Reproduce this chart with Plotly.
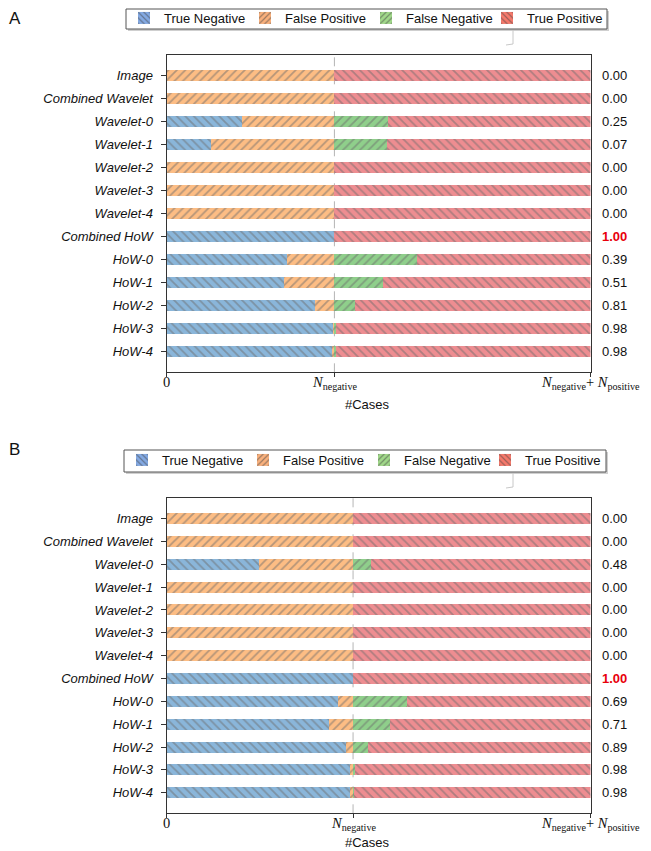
import plotly.graph_objects as go

# the page body has an 8px margin, so the figure is drawn 8px in from the top-left corner
OFF = 8
W, H = 651 - OFF, 851 - OFF


def px(x):
    return (x - OFF) / W


def py(y):
    return 1 - (y - OFF) / H


rows = ["Image", "Combined Wavelet", "Wavelet-0", "Wavelet-1", "Wavelet-2", "Wavelet-3",
        "Wavelet-4", "Combined HoW", "HoW-0", "HoW-1", "HoW-2", "HoW-3", "HoW-4"]
classes = ["True Negative", "False Positive", "False Negative", "True Positive"]

# panel A (case counts)
n_neg_a = 400
n_pos_a = 610
tn_a = [0, 0, 181, 107, 0, 0, 0, 400, 288, 281, 354, 396, 394]
fp_a = [400, 400, 219, 293, 400, 400, 400, 0, 112, 119, 46, 4, 6]
fn_a = [0, 0, 128, 126, 0, 0, 0, 0, 197, 115, 49, 4, 3]
tp_a = [610, 610, 482, 484, 610, 610, 610, 610, 413, 495, 561, 606, 607]
score_a = [0.00, 0.00, 0.25, 0.07, 0.00, 0.00, 0.00, 1.00, 0.39, 0.51, 0.81, 0.98, 0.98]

# panel B
n_neg_b = 440
n_pos_b = 560
tn_b = [0, 0, 218, 0, 0, 0, 0, 440, 404, 383, 423, 432, 433]
fp_b = [440, 440, 222, 440, 440, 440, 440, 0, 36, 57, 17, 8, 7]
fn_b = [0, 0, 42, 0, 0, 0, 0, 0, 128, 87, 35, 4, 3]
tp_b = [560, 560, 518, 560, 560, 560, 560, 560, 432, 473, 525, 556, 557]
score_b = [0.00, 0.00, 0.48, 0.00, 0.00, 0.00, 0.00, 1.00, 0.69, 0.71, 0.89, 0.98, 0.98]

bar_colors = ["#8ab6da", "#fdbd84", "#8fcf8b", "#ee8d91"]
legend_colors = ["#83a9e3", "#f9b07c", "#a0d889", "#f6796b"]
hatch = ["\\", "/", "/", "\\"]

sans = "Arial, Liberation Sans, sans-serif"
serif = "Liberation Serif, Times New Roman, serif"

fig = go.Figure()


def add_panel(n, xa, ya, legend, counts, n_neg, n_pos, scores, top, bottom, label_y, leg_box):
    for k in range(4):
        fig.add_trace(go.Bar(
            x=counts[k], y=rows, orientation="h", xaxis=xa, yaxis=ya, showlegend=False,
            marker=dict(color=bar_colors[k], line=dict(width=0),
                        pattern=dict(shape=hatch[k], fillmode="overlay", fgcolor="#6e6e6e",
                                     size=6, solidity=0.3)),
            hoverinfo="skip"))
    # legend-only entries (the swatches are a bit brighter than the bars)
    for k in range(4):
        fig.add_trace(go.Bar(
            x=[None], y=[None], orientation="h", xaxis=xa, yaxis=ya, name=classes[k],
            legend=legend, showlegend=True,
            marker=dict(color=legend_colors[k], line=dict(width=0),
                        pattern=dict(shape=hatch[k], fillmode="overlay", fgcolor="#444444",
                                     size=5, solidity=0.3))))

    axn = "" if n == 1 else str(n)
    total = n_neg + n_pos
    fig.layout["xaxis" + axn] = dict(
        domain=[px(166.5), px(590.5)], anchor=ya, range=[0, total],
        tickvals=[0, n_neg, total], showticklabels=False,
        ticks="outside", ticklen=4, tickcolor="#333",
        showline=True, linecolor="#333", linewidth=1, mirror=True,
        showgrid=False, zeroline=False, automargin=False, fixedrange=True)
    pad = 0.9
    fig.layout["yaxis" + axn] = dict(
        domain=[py(bottom), py(top)], anchor=xa, type="category",
        categoryorder="array", categoryarray=rows, range=[len(rows) - 1 + pad, -pad],
        tickfont=dict(family=sans, size=13, color="#111", style="italic"),
        ticks="outside", ticklen=5, tickcolor="#333", ticklabelstandoff=5,
        showline=True, linecolor="#333", linewidth=1, mirror=True,
        showgrid=False, zeroline=False, automargin=False, fixedrange=True)

    # x tick labels (N_negative etc. in a serif math style)
    xlabels = ["0", "<i>N</i><sub>negative</sub>",
               "<i>N</i><sub>negative</sub>+ <i>N</i><sub>positive</sub>"]
    for v, t in zip([0, n_neg, total], xlabels):
        fig.add_annotation(x=v, xref=xa, y=py(bottom + 1), yref="paper", xanchor="center",
                           yanchor="top", borderpad=0, text=t, showarrow=False,
                           font=dict(family=serif, size=14.5, color="#111"))

    # dashed separator at N_negative
    fig.add_shape(type="line", xref=xa, yref=ya + " domain", x0=n_neg, x1=n_neg, y0=0, y1=1,
                  line=dict(color="#b5b5b5", width=1, dash="dash"), layer="below")

    # score column on the right
    for r, s in zip(rows, scores):
        best = s == max(scores)
        fig.add_annotation(x=px(600), xref="paper", y=r, yref=ya, xanchor="left",
                           yanchor="middle", showarrow=False,
                           text=f"<b>{s:.2f}</b>" if best else f"{s:.2f}",
                           font=dict(family=sans, size=13, color="#e8000b" if best else "#111"))

    # axis title, kept just inside the bottom edge of the page
    fig.add_annotation(x=px(367), y=py(min(bottom + 32, 842.5)), xref="paper", yref="paper",
                       xanchor="center", yanchor="middle", borderpad=0, text="#Cases",
                       showarrow=False, font=dict(family=sans, size=13, color="#111"))
    fig.add_annotation(x=px(OFF), y=py(label_y), xref="paper", yref="paper", xanchor="left",
                       yanchor="top", borderpad=0, text="A" if n == 1 else "B", showarrow=False,
                       font=dict(family=sans, size=17, color="#111"))

    # legend frame drawn by hand (plotly's own box is taller), with its shadow and connector
    x0, y0, x1, y1 = leg_box
    fig.add_shape(type="rect", xref="paper", yref="paper", x0=px(x0 + 2), x1=px(x1 + 2),
                  y0=py(y1 + 2), y1=py(y0 + 2), line=dict(width=0), fillcolor="#cfcfcf")
    fig.add_shape(type="rect", xref="paper", yref="paper", x0=px(x0), x1=px(x1),
                  y0=py(y1), y1=py(y0), line=dict(color="#555", width=1), fillcolor="white")
    fig.add_shape(type="path", xref="paper", yref="paper",
                  path=f"M {px(513)} {py(y1 + 1)} L {px(513)} {py(y1 + 15)} "
                       f"L {px(506)} {py(y1 + 16)}",
                  line=dict(color="#c8c8c8", width=1))

    mid = (y0 + y1) / 2
    fig.layout[legend] = dict(
        x=px(x0 - 2), y=py(mid - 16), xanchor="left", yanchor="top", orientation="h",
        bgcolor="rgba(0,0,0,0)", borderwidth=0, entrywidth=76, entrywidthmode="pixels",
        font=dict(family=sans, size=13, color="#111"), itemwidth=30, traceorder="normal")


add_panel(1, "x", "y", "legend", [tn_a, fp_a, fn_a, tp_a], n_neg_a, n_pos_a, score_a,
          55, 372.3, 8, (126, 9, 607, 29))
add_panel(2, "x2", "y2", "legend2", [tn_b, fp_b, fn_b, tp_b], n_neg_b, n_pos_b, score_b,
          498, 813.3, 439, (124, 450, 606, 472))

fig.update_layout(
    width=W, height=H, barmode="stack", bargap=0.52,
    margin=dict(l=0, r=0, t=0, b=0, autoexpand=False),
    paper_bgcolor="white", plot_bgcolor="white",
)

fig.write_html("out.html")
